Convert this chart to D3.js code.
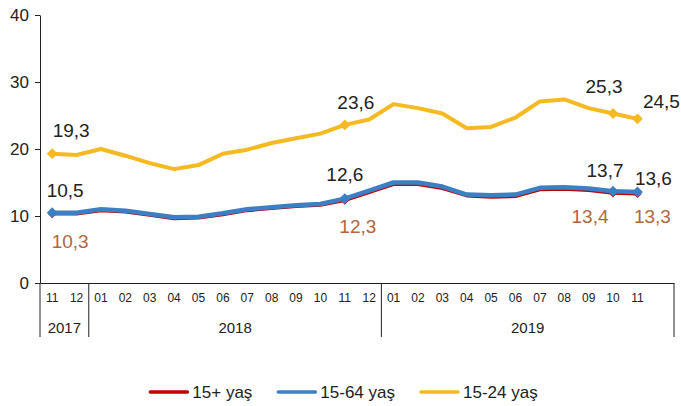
<!DOCTYPE html>
<html>
<head>
<meta charset="utf-8">
<script src="https://cdn.jsdelivr.net/npm/d3@7"></script>
<style>
  html, body { margin: 0; padding: 0; background: #fff; }
  svg { display: block; font-family: "Liberation Sans", Arial, sans-serif; }
</style>
</head>
<body>
<div id="chart"></div>
<script>
/* --- Data --- */
// 26 monthly slots: 11/2017 ... 12/2019 (last slot empty)
const months = ["2017-11", "2017-12",
  "2018-01", "2018-02", "2018-03", "2018-04", "2018-05", "2018-06",
  "2018-07", "2018-08", "2018-09", "2018-10", "2018-11", "2018-12",
  "2019-01", "2019-02", "2019-03", "2019-04", "2019-05", "2019-06",
  "2019-07", "2019-08", "2019-09", "2019-10", "2019-11", "2019-12"];

const years = ["2017", "2018", "2019"];
const yTicks = [0, 10, 20, 30, 40];

const total15 = [10.3, 10.3, 10.8, 10.6, 10.1, 9.6, 9.7, 10.2, 10.8, 11.1, 11.4, 11.6, 12.3,
  13.5, 14.7, 14.7, 14.1, 13.0, 12.8, 12.9, 13.9, 14.0, 13.8, 13.4, 13.3];
const age1564 = [10.5, 10.5, 11.0, 10.8, 10.3, 9.8, 9.9, 10.4, 11.0, 11.3, 11.6, 11.8, 12.6,
  13.8, 15.0, 15.0, 14.4, 13.2, 13.1, 13.2, 14.2, 14.3, 14.1, 13.7, 13.6];
const age1524 = [19.3, 19.1, 20.0, 19.0, 17.9, 17.0, 17.6, 19.3, 19.9, 20.9, 21.6, 22.3, 23.6,
  24.4, 26.7, 26.1, 25.3, 23.1, 23.3, 24.7, 27.1, 27.4, 26.1, 25.3, 24.5];

const seriesNames = ["15+ yaş", "15-64 yaş", "15-24 yaş"];
const markedIdx = [0, 12, 23, 24];

/* --- Style --- */
const COLORS = { red: "#c00000", blue: "#3b7fc4", yellow: "#f5b921", redLabel: "#b3663c", axis: "#222" };

// label placement relative to the data point (dx, dy to text baseline)
const labelPlacement = [
  { s: 2, i: 0, dx: 19, dy: -17, color: "#222" },
  { s: 2, i: 12, dx: 11, dy: -16, color: "#222" },
  { s: 2, i: 23, dx: -9, dy: -20, color: "#222" },
  { s: 2, i: 24, dx: 24, dy: -11, color: "#222" },
  { s: 1, i: 0, dx: 13, dy: -16, color: "#222" },
  { s: 1, i: 12, dx: 0, dy: -18, color: "#222" },
  { s: 1, i: 23, dx: -8, dy: -14, color: "#222" },
  { s: 1, i: 24, dx: 16, dy: -7, color: "#222" },
  { s: 0, i: 0, dx: 18, dy: 34, color: COLORS.redLabel },
  { s: 0, i: 12, dx: 13, dy: 32, color: COLORS.redLabel },
  { s: 0, i: 23, dx: -23, dy: 30, color: COLORS.redLabel },
  { s: 0, i: 24, dx: 15, dy: 29, color: COLORS.redLabel }
];

const W = 681, H = 406;
const plot = { left: 40, right: 674, top: 15, bottom: 283, groupBottom: 337 };

const svg = d3.select("#chart").append("svg")
  .attr("width", W).attr("height", H);

const x = d3.scaleBand().domain(months).range([plot.left, plot.right]);
const y = d3.scaleLinear().domain([0, 40]).range([plot.bottom, plot.top]);
const cx = m => x(m) + x.bandwidth() / 2;

// Y axis
const yAxis = svg.append("g")
  .attr("transform", `translate(${plot.left},0)`)
  .call(d3.axisLeft(y).tickValues(yTicks).tickSize(5).tickSizeOuter(0).tickPadding(6));
yAxis.select(".domain").attr("stroke", COLORS.axis);
yAxis.selectAll(".tick line").attr("stroke", COLORS.axis);
yAxis.selectAll("text").attr("font-size", 17).attr("fill", "#222")
  .attr("font-family", "Liberation Sans, Arial, sans-serif");

// X axis (month labels)
const xAxis = svg.append("g")
  .attr("transform", `translate(0,${plot.bottom})`)
  .call(d3.axisBottom(x).tickSize(0).tickSizeOuter(0).tickPadding(10)
    .tickFormat((d, i) => i < total15.length ? d.slice(5) : ""));
xAxis.select(".domain").attr("stroke", COLORS.axis);
xAxis.selectAll("text").attr("font-size", 12).attr("fill", "#222")
  .attr("font-family", "Liberation Sans, Arial, sans-serif");

// Year groups and separators
const yearSpans = years.map(yr => {
  const ms = months.filter(m => m.startsWith(yr));
  return { yr, x0: x(ms[0]), x1: x(ms[ms.length - 1]) + x.bandwidth() };
});
const bounds = [yearSpans[0].x0, ...yearSpans.map(d => d.x1)];
svg.append("g").selectAll("line").data(bounds).join("line")
  .attr("x1", d => d).attr("x2", d => d)
  .attr("y1", plot.bottom).attr("y2", plot.groupBottom)
  .attr("stroke", COLORS.axis);
svg.append("g").selectAll("text").data(yearSpans).join("text")
  .attr("x", d => (d.x0 + d.x1) / 2)
  .attr("y", 333)
  .attr("text-anchor", "middle")
  .attr("font-size", 15).attr("fill", "#222")
  .text(d => d.yr);

// Lines
const series = [
  { name: seriesNames[0], values: total15, color: COLORS.red, width: 3, marker: 45 },
  { name: seriesNames[1], values: age1564, color: COLORS.blue, width: 4.5, marker: 75 },
  { name: seriesNames[2], values: age1524, color: COLORS.yellow, width: 4, marker: 75 }
];

const line = d3.line()
  .x((d, i) => cx(months[i]))
  .y(d => y(d));

const drawOrder = [2, 0, 1];
drawOrder.forEach(si => {
  const s = series[si];
  svg.append("path")
    .datum(s.values)
    .attr("fill", "none")
    .attr("stroke", s.color)
    .attr("stroke-width", s.width)
    .attr("stroke-linejoin", "round")
    .attr("stroke-linecap", "round")
    .attr("d", line);
  svg.append("g").selectAll("path").data(markedIdx).join("path")
    .attr("transform", i => `translate(${cx(months[i])},${y(s.values[i])})`)
    .attr("d", d3.symbol(d3.symbolDiamond2, s.marker))
    .attr("fill", s.color);
});

// Data labels
const fmt = v => v.toFixed(1).replace(".", ",");
svg.append("g").selectAll("text").data(labelPlacement).join("text")
  .attr("x", d => cx(months[d.i]) + d.dx)
  .attr("y", d => y(series[d.s].values[d.i]) + d.dy)
  .attr("text-anchor", "middle")
  .attr("font-size", 19)
  .attr("fill", d => d.color)
  .text(d => fmt(series[d.s].values[d.i]));

// Legend
const legend = svg.append("g");
let lx = 0;
series.forEach((s, k) => {
  const g = legend.append("g").attr("transform", `translate(${lx},0)`);
  g.append("line").attr("x1", 0).attr("x2", 37).attr("y1", 0).attr("y2", 0)
    .attr("stroke", s.color).attr("stroke-width", 3.5).attr("stroke-linecap", "round");
  const t = g.append("text").attr("x", 42).attr("y", 6)
    .attr("font-size", 17).attr("fill", "#222").text(s.name);
  lx += 42 + t.node().getComputedTextLength() + 26;
});
const legendW = lx - 26;
legend.attr("transform", `translate(${344 - legendW / 2},392)`);
</script>
</body>
</html>
